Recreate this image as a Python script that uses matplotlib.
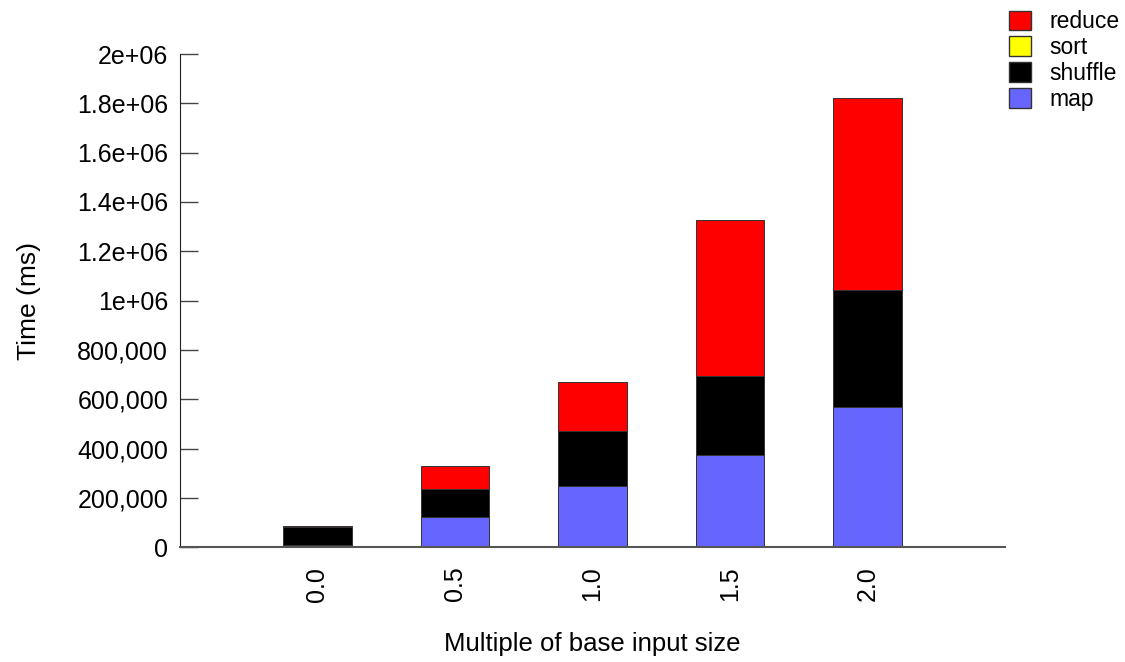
import numpy as np
import matplotlib.pyplot as plt
from matplotlib.ticker import FuncFormatter
from matplotlib.patches import Patch

plt.rcParams['font.family'] = ['Liberation Sans', 'DejaVu Sans']

# input size multiples and time per phase (ms)
sizes = ['0.0', '0.5', '1.0', '1.5', '2.0']
map_ms = [11000, 121600, 247300, 374200, 568800]
shuffle_ms = [70000, 114800, 225400, 321500, 473100]
sort_ms = [0, 0, 0, 0, 0]
reduce_ms = [6000, 93200, 197500, 630000, 778400]

phases = ['map', 'shuffle', 'sort', 'reduce']
colors = ['#6666ff', '#000000', '#ffff00', '#ff0000']
series = [map_ms, shuffle_ms, sort_ms, reduce_ms]

fig = plt.figure(figsize=(11.25, 6.62), dpi=100)
ax = fig.add_axes([0.16, 0.1733, 0.7333, 0.7451])

x = np.arange(len(sizes))
bottom = np.zeros(len(sizes))
for name, col, vals in zip(phases, colors, series):
    vals = np.array(vals, dtype=float)
    ax.bar(x, vals, 0.5, bottom=bottom, color=col, edgecolor='#333333',
           linewidth=0.7, label=name)
    bottom += vals


def fmt(v, pos):
    if v >= 1e6:
        s = '%.1e' % v
        m, e = s.split('e')
        m = m.rstrip('0').rstrip('.')
        return '%se+%02d' % (m, int(e))
    return '{:,.0f}'.format(v)


ax.set_xlim(-1, 5)
ax.set_ylim(0, 2e6)
ax.set_yticks(np.arange(0, 2.01e6, 2e5))
ax.yaxis.set_major_formatter(FuncFormatter(fmt))
ax.set_xticks(x)
ax.set_xticklabels(sizes, rotation=90, fontsize=18)
ax.tick_params(axis='x', length=0, pad=14)
ax.tick_params(axis='y', direction='in', length=13, width=1, color='#444444',
               labelsize=18, pad=8.5)
ax.spines['top'].set_visible(False)
ax.spines['right'].set_visible(False)
ax.spines['left'].set_color('#222222')
ax.spines['bottom'].set_color('#555555')
ax.spines['bottom'].set_linewidth(1.5)

ax.set_ylabel('Time (ms)', fontsize=19, labelpad=26)
ax.set_xlabel('Multiple of base input size', fontsize=18.5, labelpad=22)

handles = [Patch(facecolor=c, edgecolor='#333333', label=n)
           for n, c in zip(phases, colors)][::-1]
fig.legend(handles=handles, loc='upper left', bbox_to_anchor=(0.881, 1.012),
           frameon=False, fontsize=16.5, handlelength=0.95, handleheight=0.95,
           labelspacing=0.12, handletextpad=0.8, borderpad=0.3)

plt.savefig('out.png')
plt.close()
